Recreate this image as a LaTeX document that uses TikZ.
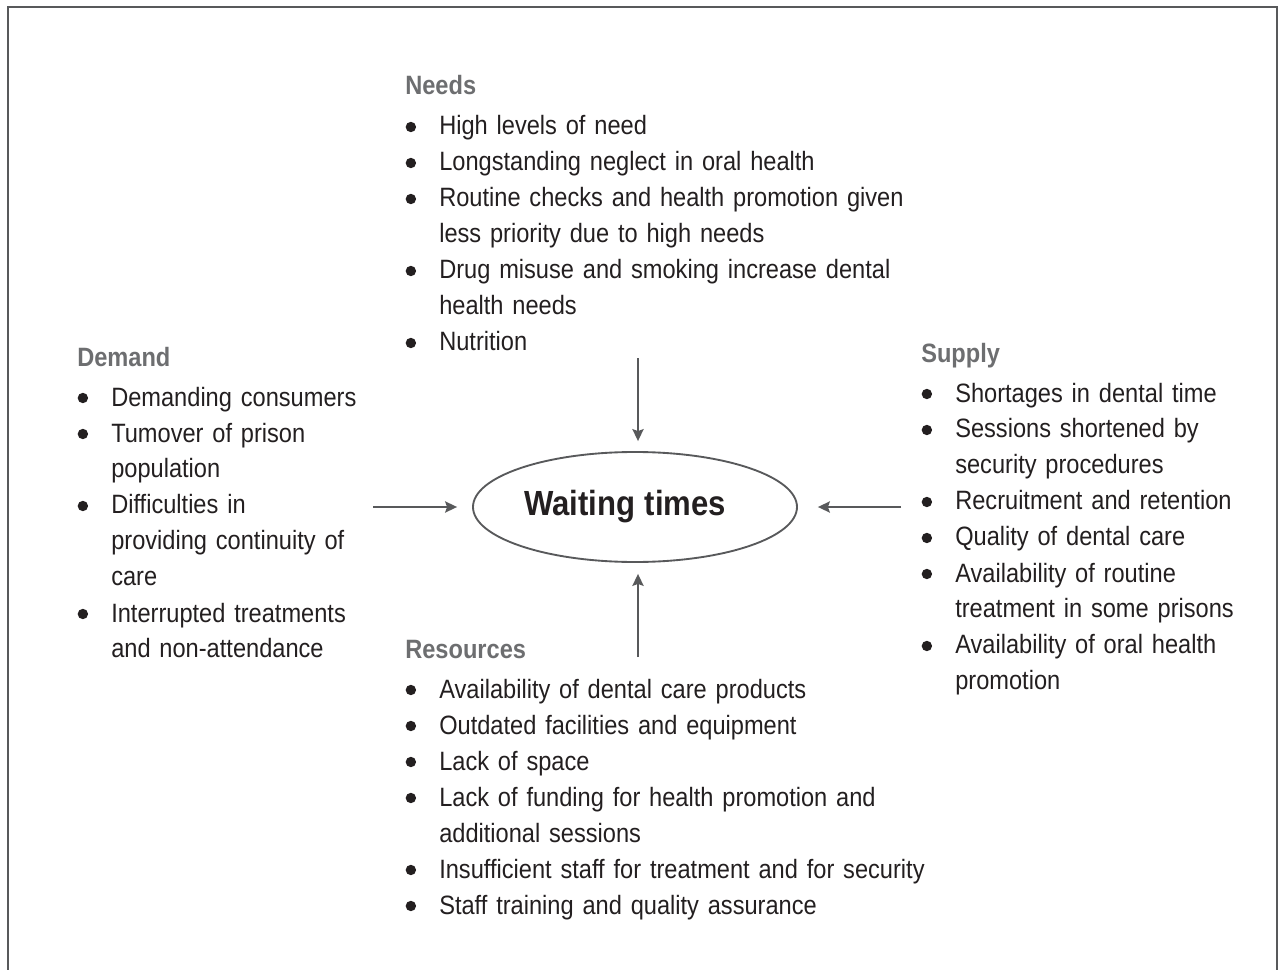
\documentclass[tikz,border=0pt]{standalone}
\usepackage{fontspec}
\setmainfont{Liberation Sans}[FakeStretch=0.89, WordSpace=0.8]
\usetikzlibrary{arrows.meta,shapes.geometric}

\definecolor{inkgray}{HTML}{231F20}
\definecolor{headgray}{HTML}{6D6E70}
\definecolor{linegray}{HTML}{58595B}

% one bullet line with hanging indent
\newcommand{\bitem}{\par\hangindent=25.5pt\hangafter=1\noindent
  \makebox[25.5pt][l]{\kern0.3pt\tikz[baseline=-6pt]\fill[inkgray] (0,0) circle[radius=3.9pt];}}
\newcommand{\blockhead}[1]{{\color{headgray}\bfseries #1}\par\vspace{3pt}}

\tikzset{
  block/.style={anchor=base west, align=left, text width=#1, inner sep=0pt,
    text=inkgray, font=\fontsize{19.9pt}{27pt}\selectfont},
  flow/.style={draw=linegray, line width=1pt, -{Stealth[length=9pt, width=8.5pt, inset=1.5pt]}},
}

\begin{document}
\begin{tikzpicture}[x=0.75pt, y=-0.75pt]
\useasboundingbox (0,0) rectangle (1279,970);
% Set the frame (open at the bottom)
\draw[linegray, line width=1.5pt] (8,975) -- (8,7) -- (1277,7) -- (1277,975);

% Centre ellipse
\node[ellipse, draw=linegray, line width=1.4pt, minimum width=243pt, minimum height=82.5pt,
  text=inkgray, font=\fontsize{26.2pt}{30pt}\selectfont\bfseries] (wait) at (635,507) {\kern-15pt Waiting\hspace{0.27em}times};

% The four blocks of factors
\node[block=380pt] (needs) at (405,95) {\blockhead{Needs}%
\bitem High levels of need
\bitem Longstanding neglect in oral health
\bitem Routine checks and health promotion given\newline less priority due to high needs
\bitem Drug misuse and smoking increase dental\newline health needs
\bitem Nutrition\par};

\node[block=240pt] (demand) at (77,366) {\blockhead{Demand}%
\bitem Demanding consumers
\bitem Tumover of prison\newline population
\bitem Difficulties in\newline providing continuity of\newline care
\bitem Interrupted treatments\newline and non-attendance\par};

\node[block=260pt] (supply) at (921,362) {\blockhead{Supply}%
\bitem Shortages in dental time
\bitem Sessions shortened by\newline security procedures
\bitem Recruitment and retention
\bitem Quality of dental care
\bitem Availability of routine\newline treatment in some prisons
\bitem Availability of oral health\newline promotion\par};

\node[block=420pt] (resources) at (405,658) {\blockhead{Resources}%
\bitem Availability of dental care products
\bitem Outdated facilities and equipment
\bitem Lack of space
\bitem Lack of funding for health promotion and\newline additional sessions
\bitem Insufficient staff for treatment and for security
\bitem Staff training and quality assurance\par};

% Arrows into the ellipse
\coordinate (ntail) at (638,358);
\coordinate (rtail) at (638,657);
\coordinate (dtail) at (373,507);
\coordinate (stail) at (901,507);
\draw[flow, shorten >=7.5pt] (ntail) -- (ntail |- wait.north);
\draw[flow, shorten >=8.25pt] (rtail) -- (rtail |- wait.south);
\draw[flow, shorten >=11.25pt] (dtail) -- (wait.west);
\draw[flow, shorten >=15pt] (stail) -- (wait.east);
\end{tikzpicture}
\end{document}
